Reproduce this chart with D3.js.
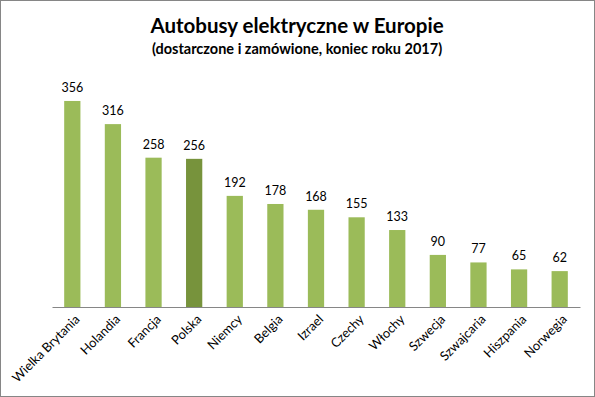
<!DOCTYPE html>
<html>
<head>
<meta charset="utf-8">
<script src="https://cdn.jsdelivr.net/npm/d3@7"></script>
<style>
  body { margin: 0; background: #fff; }
  svg { display: block; font-family: Lato, "Open Sans", sans-serif; }
</style>
</head>
<body>
<div id="chart"></div>
<script>
// Countries and bus counts
const countries = ["Wielka Brytania", "Holandia", "Francja", "Polska", "Niemcy", "Belgia", "Izrael", "Czechy", "Włochy", "Szwecja", "Szwajcaria", "Hiszpania", "Norwegia"];
const buses = [356, 316, 258, 256, 192, 178, 168, 155, 133, 90, 77, 65, 62];
const highlight = ["Polska"];

const data = countries.map((c, i) => ({ name: c, value: buses[i] }));

const W = 595, H = 397;
const margin = { top: 75.5, right: 15, bottom: 90, left: 52 };
const width = W - margin.left - margin.right;
const height = H - margin.top - margin.bottom;

const root = d3.select("#chart")
    .append("svg")
    .attr("width", W)
    .attr("height", H);

// outer border
root.append("rect")
    .attr("x", 0.5).attr("y", 0.5)
    .attr("width", W - 1).attr("height", H - 1)
    .attr("fill", "#fff")
    .attr("stroke", "#868686");

// Titles
root.append("text")
    .attr("x", 297).attr("y", 32.5)
    .attr("text-anchor", "middle")
    .attr("font-size", 20.5)
    .attr("font-weight", "bold")
    .attr("fill", "#000")
    .text("Autobusy elektryczne w Europie");

root.append("text")
    .attr("x", 297).attr("y", 54)
    .attr("text-anchor", "middle")
    .attr("font-size", 14.5)
    .attr("font-weight", "bold")
    .attr("fill", "#000")
    .text("(dostarczone i zamówione, koniec roku 2017)");

const svg = root.append("g")
    .attr("transform", `translate(${margin.left},${margin.top})`);

const x = d3.scaleBand()
    .domain(countries)
    .range([0, width])
    .paddingInner(0.6)
    .paddingOuter(0.3);

const y = d3.scaleLinear()
    .domain([0, 400])
    .range([height, 0]);

svg.selectAll(".bar")
    .data(data)
    .enter()
    .append("rect")
    .attr("class", "bar")
    .attr("x", d => x(d.name))
    .attr("width", x.bandwidth())
    .attr("y", d => y(d.value))
    .attr("height", d => height - y(d.value))
    .attr("fill", d => highlight.includes(d.name) ? "#77933C" : "#9BBB59");

// value labels
svg.selectAll(".val")
    .data(data)
    .enter()
    .append("text")
    .attr("class", "val")
    .attr("x", d => x(d.name) + x.bandwidth() / 2)
    .attr("y", d => y(d.value) - 9)
    .attr("text-anchor", "middle")
    .attr("font-size", 12.5)
    .attr("fill", "#000")
    .text(d => d.value);

// X axis
const xAxis = svg.append("g")
    .attr("transform", `translate(0,${height})`)
    .call(d3.axisBottom(x).tickSize(0).tickSizeOuter(0));

xAxis.select(".domain")
    .attr("stroke", "#868686");

xAxis.selectAll("text")
    .attr("font-family", "Lato, 'Open Sans', sans-serif")
    .attr("font-size", 12.8)
    .attr("fill", "#000")
    .attr("text-anchor", "end")
    .attr("dy", 0)
    .attr("transform", "translate(6,11) rotate(-45)");
</script>
</body>
</html>
